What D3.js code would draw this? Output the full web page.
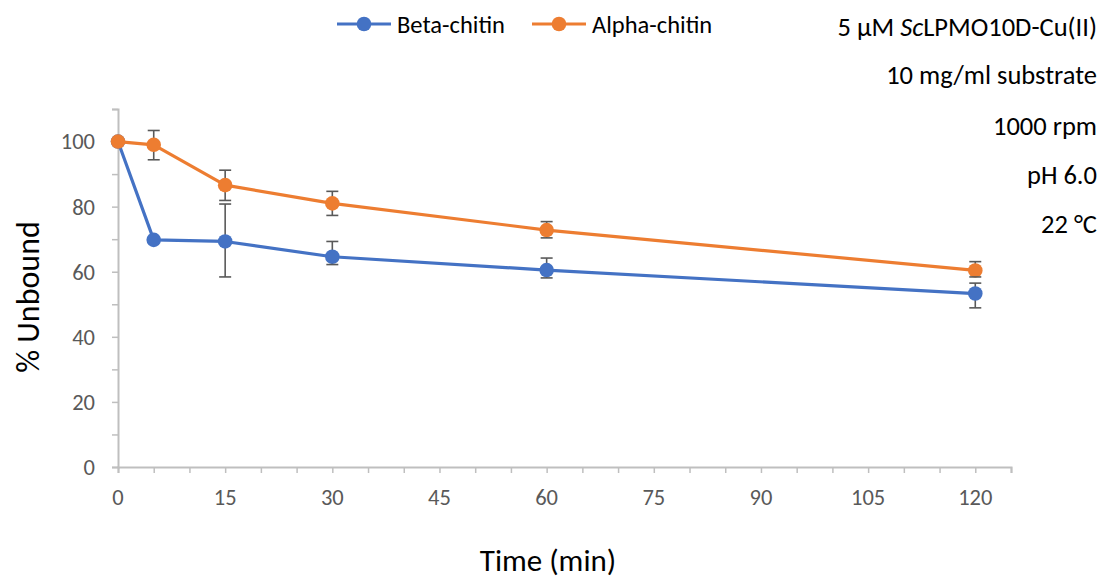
<!DOCTYPE html>
<html>
<head>
<meta charset="utf-8">
<script src="https://cdn.jsdelivr.net/npm/d3@7"></script>
<style>
  html, body { margin: 0; padding: 0; background: #fff; }
  svg { display: block; }
</style>
</head>
<body>
<svg id="chart" width="1102" height="578"></svg>
<script>
// ---- data ----
const times = [0, 5, 15, 30, 60, 120];
const betaValues = [100, 69.8, 69.3, 64.6, 60.5, 53.3];
const betaErrUp = [0, 0.8, 11.5, 4.7, 3.7, 3.2];
const betaErrDown = [0, 0.8, 10.9, 2.4, 2.4, 4.4];
const alphaValues = [100, 99.0, 86.6, 81.0, 72.8, 60.4];
const alphaErrUp = [0, 4.4, 4.6, 3.7, 2.6, 2.7];
const alphaErrDown = [0, 4.6, 4.7, 3.7, 2.4, 2.0];
const seriesNames = ["Beta-chitin", "Alpha-chitin"];
const xTickValues = [0, 15, 30, 45, 60, 75, 90, 105, 120];
const yTickValues = [0, 20, 40, 60, 80, 100];
const annotations = ["5 µM ScLPMO10D-Cu(II)", "10 mg/ml substrate", "1000 rpm", "pH 6.0", "22 °C"];

const colors = ["#4472C4", "#ED7D31"];
const font = "Carlito, Calibri, Lato, 'Open Sans', sans-serif";

const svg = d3.select("#chart");
const x = d3.scaleLinear().domain([0, 125]).range([118, 1011]);
const y = d3.scaleLinear().domain([0, 110]).range([467, 109]);

const axisColor = "#bfbfbf";
const textColor = "#595959";

// Y axis
const yAxis = d3.axisLeft(y).tickValues(d3.range(0, 111, 10)).tickSize(6).tickFormat("");
const gy = svg.append("g").attr("transform", `translate(${x(0)},0)`).call(yAxis);
gy.select(".domain").attr("stroke", axisColor).attr("stroke-width", 2);
gy.selectAll(".tick line").attr("stroke", axisColor).attr("stroke-width", 1.5);
svg.append("g").selectAll("text").data(yTickValues).join("text")
  .attr("x", 95).attr("y", d => y(d)).attr("dy", "0.35em")
  .attr("text-anchor", "end").attr("fill", textColor)
  .style("font-family", font).style("font-size", "22.5px")
  .text(d => d);

// X axis
const xAxis = d3.axisBottom(x).tickValues(d3.range(0, 126, 5)).tickSize(6).tickFormat("");
const gx = svg.append("g").attr("transform", `translate(0,${y(0)})`).call(xAxis);
gx.select(".domain").attr("stroke", axisColor).attr("stroke-width", 2);
gx.selectAll(".tick line").attr("stroke", axisColor).attr("stroke-width", 1.5);
svg.append("g").selectAll("text").data(xTickValues).join("text")
  .attr("x", d => x(d)).attr("y", 497).attr("dy", "0.35em")
  .attr("text-anchor", "middle").attr("fill", textColor)
  .style("font-family", font).style("font-size", "22.5px")
  .text(d => d);

// Axis titles
svg.append("text").attr("x", 548).attr("y", 560).attr("dy", "0.35em")
  .attr("text-anchor", "middle").attr("fill", "#000")
  .style("font-family", font).style("font-size", "31px").text("Time (min)");
svg.append("text").attr("transform", "translate(28,297) rotate(-90)").attr("dy", "0.35em")
  .attr("text-anchor", "middle").attr("fill", "#000")
  .style("font-family", font).style("font-size", "32px").text("% Unbound");

// Series
const series = [
  { name: seriesNames[0], values: betaValues, up: betaErrUp, down: betaErrDown, color: colors[0] },
  { name: seriesNames[1], values: alphaValues, up: alphaErrUp, down: alphaErrDown, color: colors[1] }
];
const line = d3.line().x(d => x(d.t)).y(d => y(d.v));

series.forEach(s => {
  const pts = times.map((t, i) => ({ t, v: s.values[i], up: s.up[i], down: s.down[i] }));
  const eb = svg.append("g").attr("stroke", "#595959").attr("stroke-width", 1.6);
  pts.filter(p => p.up > 0 || p.down > 0).forEach(p => {
    eb.append("line").attr("x1", x(p.t)).attr("x2", x(p.t)).attr("y1", y(p.v + p.up)).attr("y2", y(p.v - p.down));
  });
  s.pts = pts;
});
series.forEach(s => {
  svg.append("path").datum(s.pts).attr("d", line).attr("fill", "none")
    .attr("stroke", s.color).attr("stroke-width", 3.2).attr("stroke-linejoin", "round");
  svg.append("g").selectAll("circle").data(s.pts).join("circle")
    .attr("cx", d => x(d.t)).attr("cy", d => y(d.v)).attr("r", 7.3).attr("fill", s.color);
});
series.forEach(s => {
  const eb = svg.append("g").attr("stroke", "#595959").attr("stroke-width", 1.6);
  s.pts.filter(p => p.up > 1 || p.down > 1).forEach(p => {
    eb.append("line").attr("x1", x(p.t) - 6).attr("x2", x(p.t) + 6).attr("y1", y(p.v + p.up)).attr("y2", y(p.v + p.up));
    eb.append("line").attr("x1", x(p.t) - 6).attr("x2", x(p.t) + 6).attr("y1", y(p.v - p.down)).attr("y2", y(p.v - p.down));
  });
});

// Legend
const legendX = [337, 532];
series.forEach((s, i) => {
  const g = svg.append("g").attr("transform", `translate(${legendX[i]},24)`);
  g.append("line").attr("x1", 0).attr("x2", 54).attr("y1", 0).attr("y2", 0)
    .attr("stroke", s.color).attr("stroke-width", 3.2);
  g.append("circle").attr("cx", 27).attr("cy", 0).attr("r", 7.3).attr("fill", s.color);
  g.append("text").attr("x", 60).attr("y", 0).attr("dy", "0.35em").attr("fill", "#000")
    .style("font-family", font).style("font-size", "24.5px").text(s.name);
});

// Annotations
const annY = [27, 75, 126, 175, 224];
annotations.forEach((a, i) => {
  const t = svg.append("text").attr("x", 1097).attr("y", annY[i]).attr("dy", "0.35em")
    .attr("text-anchor", "end").attr("fill", "#000")
    .style("font-family", font).style("font-size", "26.5px");
  if (i === 0) {
    t.append("tspan").text("5 µM ");
    t.append("tspan").attr("font-style", "italic").text("Sc");
    t.append("tspan").text("LPMO10D-Cu(II)");
  } else {
    t.text(a);
  }
});
</script>
</body>
</html>
